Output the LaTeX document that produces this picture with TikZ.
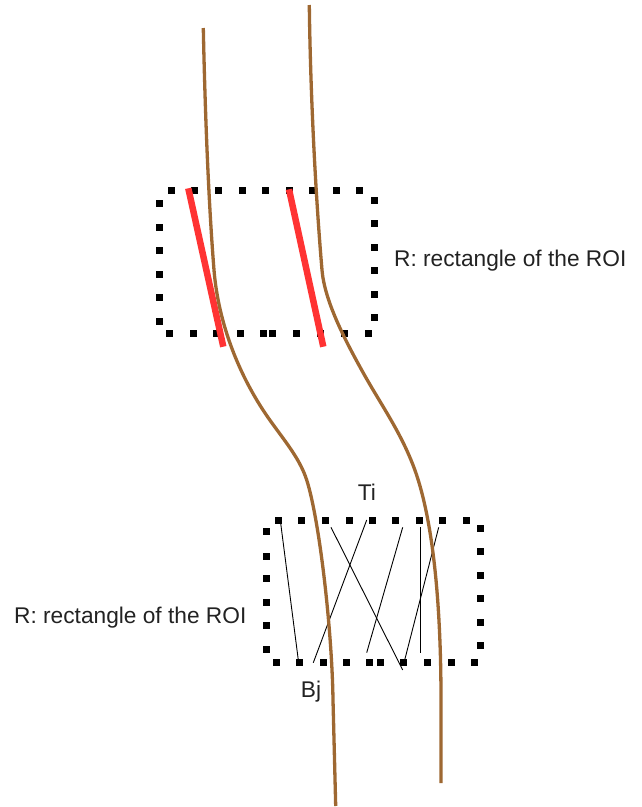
\documentclass[tikz,border=0pt]{standalone}
\usepackage{fontspec}
\setmainfont{Liberation Sans}
\definecolor{trailbrown}{RGB}{158,104,50}
\definecolor{segred}{RGB}{255,51,51}
\definecolor{labelgray}{RGB}{34,34,34}
\begin{document}
\begin{tikzpicture}[x=1pt,y=-1pt,
  trail/.style={draw=trailbrown, line width=3.3pt, line cap=butt},
  seg/.style={draw=segred, line width=6.5pt},
  link/.style={draw=black, line width=0.9pt},
  dotsq/.style={fill=black},
  lbl/.style={font=\fontsize{22.7}{26}\selectfont, text=labelgray, inner sep=0pt}]
\useasboundingbox (0,0) rectangle (642,807);

% upper dotted box
\foreach \x in {171,194,218,242,265,289,312,336,359}
  \fill[dotsq] (\x-3.5,190.7-3.5) rectangle ++(7,7);
\foreach \x in {169,193,216,240,263,272,296,320,344,368}
  \fill[dotsq] (\x-3.5,333.7-3.5) rectangle ++(7,7);
\foreach \y in {203,227,250,274,297,321}
  \fill[dotsq] (159-3.5,\y-3.5) rectangle ++(7,7);
\foreach \y in {200,223,247,270,294,317}
  \fill[dotsq] (374-3.5,\y-3.5) rectangle ++(7,7);

% lower dotted box
\foreach \x in {278,301.7,325,349,372,395.7,419,442.7,466}
  \fill[dotsq] (\x-3.5,520-3.5) rectangle ++(7,7);
\foreach \x in {276,299.7,323,346.7,369.7,380.7,403.7,427.7,451,474.7}
  \fill[dotsq] (\x-3.5,662.7-3.5) rectangle ++(7,7);
\foreach \y in {531.7,556,578.7,602.7,625.3,649.7}
  \fill[dotsq] (266.7-3.5,\y-3.5) rectangle ++(7,7);
\foreach \y in {528.7,551.7,575.7,598.7,622.7,645.7}
  \fill[dotsq] (480.7-3.5,\y-3.5) rectangle ++(7,7);

% links between Ti and Bj
\coordinate (t1) at (280.7,523.3); \coordinate (b1) at (298.3,660);
\coordinate (t2) at (366.7,520);   \coordinate (b2) at (313.3,662.7);
\coordinate (t3) at (331,527.3);   \coordinate (b3) at (402.7,670);
\coordinate (t4) at (402.7,527.3); \coordinate (b4) at (366.7,652.7);
\coordinate (t5) at (420.7,527.3); \coordinate (b5) at (420.7,652.7);
\coordinate (t6) at (438.7,527.3); \coordinate (b6) at (404,662.7);
\foreach \i in {1,...,6} \draw[link] (t\i) -- (b\i);

% red segments
\coordinate (r1a) at (188.3,188.3); \coordinate (r1b) at (223.3,346.7);
\coordinate (r2a) at (289,189.3);   \coordinate (r2b) at (323.3,346.7);
\draw[seg] (r1a) -- (r1b);
\draw[seg] (r2a) -- (r2b);

% brown trails
\draw[trail] (203.3,28) .. controls (205,110) and (208.4,200) .. (214,270)
  .. controls (217.6,315) and (233.75,365) .. (263,410)
  .. controls (279.25,435) and (298.7,455) .. (306.7,480)
  .. controls (319.5,520) and (332,630) .. (333,700)
  -- (335.7,806);
\draw[trail] (309.3,5) .. controls (310.5,100) and (316,200) .. (322,270)
  .. controls (324.5,300) and (343.5,337) .. (360,367)
  .. controls (379,402) and (398.6,428) .. (413,465)
  .. controls (432.5,515) and (441,600) .. (441,700)
  -- (441,783);

% labels
\node[lbl, anchor=base west] (lab1) at (394,266.7) {R: rectangle of the ROI};
\node[lbl, anchor=base west] (lab2) at (14,623.3) {R: rectangle of the ROI};
\node[lbl, anchor=base] (ti) at (367,500) {Ti};
\node[lbl, anchor=base] (bj) at (311,697.5) {Bj};
\end{tikzpicture}
\end{document}
